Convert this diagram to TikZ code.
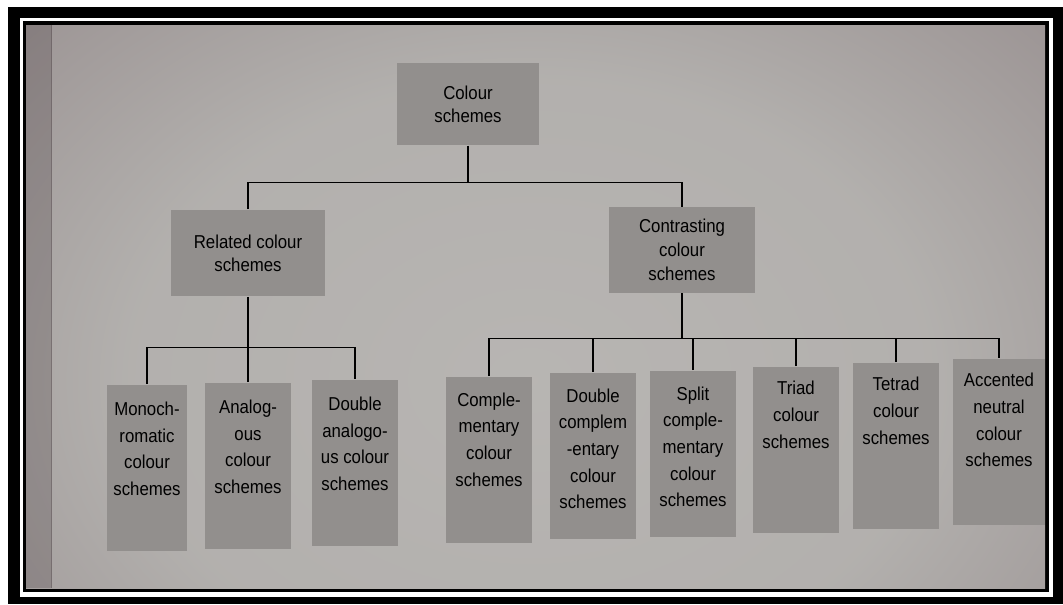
\documentclass[tikz,border=0pt]{standalone}
\usepackage{fontspec}
\setmainfont{Liberation Sans}[FakeStretch=0.9]
\usetikzlibrary{positioning}

\definecolor{boxgray}{RGB}{146,143,141}
\definecolor{foldgray}{RGB}{70,58,62}
\pgfdeclareradialshading{pagephoto}{\pgfpoint{0bp}{0bp}}{%
  rgb(0bp)=(0.72,0.71,0.70); rgb(18bp)=(0.70,0.69,0.68); rgb(32bp)=(0.61,0.58,0.58);
  rgb(44bp)=(0.49,0.45,0.46); rgb(55bp)=(0.39,0.35,0.36); rgb(72bp)=(0.30,0.26,0.27)}

\tikzset{every picture/.style={line width=0.75pt},
  topbox/.style={fill=boxgray, align=center, inner sep=0pt, font=\fontsize{14}{17.5}\selectfont},
  leafbox/.style={fill=boxgray, inner sep=0pt, minimum width=65pt, minimum height=125pt},
  leaftext/.style={align=center, inner sep=0pt, font=\fontsize{14}{20}\selectfont},
  tree/.style={draw=black, line width=0.9pt}}

\begin{document}
\begin{tikzpicture}[x=0.75pt,y=0.75pt,yscale=-1,xscale=1]
\useasboundingbox (0,0) rectangle (1063,604);

%Frame
\fill [black] (8,7) rectangle (1063,604) ;
\fill [white] (20,18) rectangle (1053,597) ;
\fill [black] (23,21) rectangle (1049,592) ;
%Page
\begin{scope}
\clip (26,25) rectangle (1045,588) ;
\shade [shading=pagephoto] (-30,-40) rectangle (1090,800) ;
\fill [foldgray, opacity=0.25] (26,25) rectangle (51,588) ;
\draw [foldgray, opacity=0.5] (51,25) -- (51,588) ;
\end{scope}

%Top level
\node [topbox, minimum width=107pt, minimum height=61.5pt] (root) at (468,104) {Colour\\schemes};
\node [topbox, minimum width=115pt, minimum height=65pt] (rel) at (248,253) {Related colour\\schemes};
\node [topbox, minimum width=109pt, minimum height=64pt, font=\fontsize{14}{18}\selectfont] (con) at (682,250) {Contrasting\\colour\\schemes};

%Related leaves
\node [leafbox, minimum width=60pt] (mono) at (147,468) {};
\node [leafbox] (ana) at (248,466) {};
\node [leafbox] (dana) at (355,463) {};
%Contrasting leaves
\node [leafbox] (comp) at (489,460) {};
\node [leafbox] (dcomp) at (593,456) {};
\node [leafbox] (split) at (693,454) {};
\node [leafbox] (triad) at (796,450) {};
\node [leafbox] (tetrad) at (896,446) {};
\node [leafbox, minimum width=69pt] (acc) at (999,442) {};

% Text Node
\node [leaftext, below=13pt of mono.north] (monot) {Monoch-\\romatic\\colour\\schemes};
\node [leaftext, below=13pt of ana.north] (anat) {Analog-\\ous\\colour\\schemes};
\node [leaftext, below=13pt of dana.north] (danat) {Double\\analogo-\\us colour\\schemes};
\node [leaftext, below=12pt of comp.north] (compt) {Comple-\\mentary\\colour\\schemes};
\node [leaftext, below=12pt of dcomp.north] (dcompt) {Double\\complem\\-entary\\colour\\schemes};
\node [leaftext, below=12pt of split.north] (splitt) {Split\\comple-\\mentary\\colour\\schemes};
\node [leaftext, below=11pt of triad.north] (triadt) {Triad\\colour\\schemes};
\node [leaftext, below=11pt of tetrad.north] (tetradt) {Tetrad\\colour\\schemes};
\node [leaftext, below=11pt of acc.north] (acct) {Accented\\neutral\\colour\\schemes};

%Bus points
\path (root.south) ++(0,37) coordinate (busA) ;
\path (rel.south) ++(0,51) coordinate (busB) ;
\path (con.south) ++(0,45) coordinate (busC) ;

%Straight Lines
\draw [tree] (root.south) -- (busA) ;
\draw [tree] (rel.north) |- (busA) -| (con.north) ;
\draw [tree] (rel.south) -- (busB) ;
\draw [tree] (mono.north) |- (busB) -| (dana.north) ;
\draw [tree] (ana.north) -- (ana.north |- busB) ;
\draw [tree] (con.south) -- (busC) ;
\draw [tree] (comp.north) |- (busC) -| (acc.north) ;
\foreach \n in {dcomp,split,triad,tetrad}
  \draw [tree] (\n.north) -- (\n.north |- busC) ;

\end{tikzpicture}
\end{document}
